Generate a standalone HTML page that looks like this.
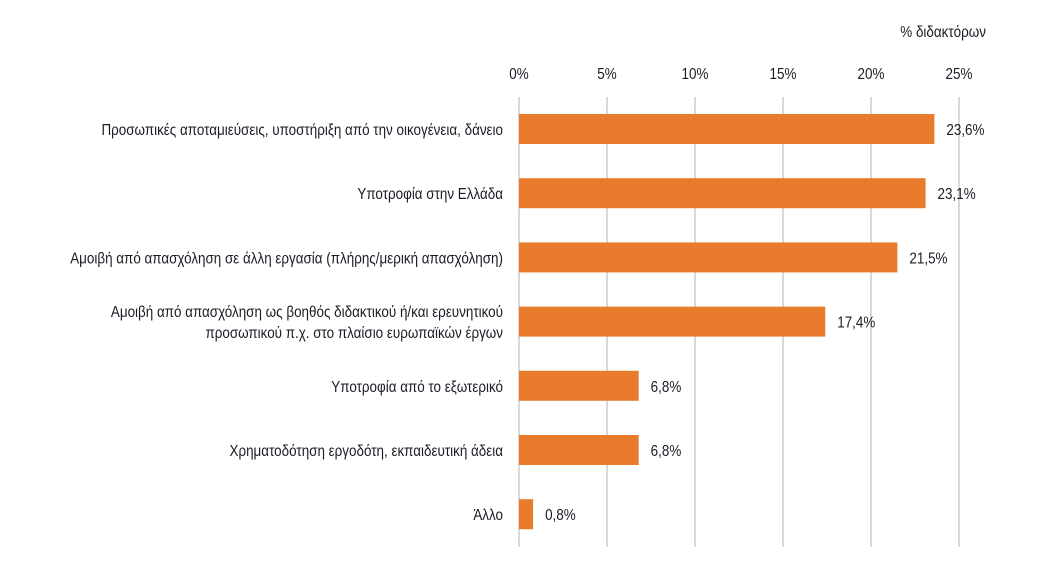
<!DOCTYPE html>
<html><head><meta charset="utf-8"><style>
html,body{margin:0;padding:0;background:#fff;}
svg text{font-family:"Liberation Sans Narrow","Liberation Sans",sans-serif;fill:#1b1b25;font-size:16px;}
</style></head><body>
<svg id="chart" width="1043" height="573" xmlns="http://www.w3.org/2000/svg">
<text transform="translate(986,37) scale(0.84,1)" text-anchor="end" font-size="17">% διδακτόρων</text>
<g id="grid"></g><g id="bars"></g>
</svg>
<script>
const categories=[["Προσωπικές αποταμιεύσεις, υποστήριξη από την οικογένεια, δάνειο"],["Υποτροφία στην Ελλάδα"],["Αμοιβή από απασχόληση σε άλλη εργασία (πλήρης/μερική απασχόληση)"],["Αμοιβή από απασχόληση ως βοηθός διδακτικού ή/και ερευνητικού","προσωπικού π.χ. στο πλαίσιο ευρωπαϊκών έργων"],["Υποτροφία από το εξωτερικό"],["Χρηματοδότηση εργοδότη, εκπαιδευτική άδεια"],["Άλλο"]];
const values=[23.6,23.1,21.5,17.4,6.8,6.8,0.8];
const valueLabels=["23,6%","23,1%","21,5%","17,4%","6,8%","6,8%","0,8%"];
const ticks=[0,5,10,15,20,25];
const tickLabels=["0%","5%","10%","15%","20%","25%"];
const NS="http://www.w3.org/2000/svg";
const SX=0.84;
const x=v=>519+v*17.6;
const y=i=>129+i*64.2;
const grid=document.getElementById('grid'),bars=document.getElementById('bars');
function mk(tag,attrs,parent){const e=document.createElementNS(NS,tag);for(const k in attrs)e.setAttribute(k,attrs[k]);parent.appendChild(e);return e;}
ticks.forEach((t,i)=>{
 const l=mk('line',{x1:x(t),x2:x(t),y1:97,y2:547,stroke:'#d9d9d9','stroke-width':2},grid);
 
 
 const tx=mk('text',{transform:`translate(${x(t)},79) scale(${SX},1)`,'text-anchor':'middle','font-size':18},grid);
 
 
 tx.textContent=tickLabels[i];
});
values.forEach((v,i)=>{
 const r=mk('rect',{x:x(0),y:y(i)-15,width:x(v)-x(0),height:30,fill:'#e87b2c'},bars);
 
 
 const vl=mk('text',{transform:`translate(${x(v)+12},${y(i)+6}) scale(${SX},1)`,'font-size':17},bars);
 
 
 vl.textContent=valueLabels[i];
 const lines=categories[i];
 lines.forEach((s,j)=>{
  const c=mk('text',{transform:`translate(503,${y(i)+6+(j-(lines.length-1)/2)*21}) scale(${SX},1)`,'text-anchor':'end'},bars);
  
  
  c.textContent=s;
 });
});
</script>
</body></html>
